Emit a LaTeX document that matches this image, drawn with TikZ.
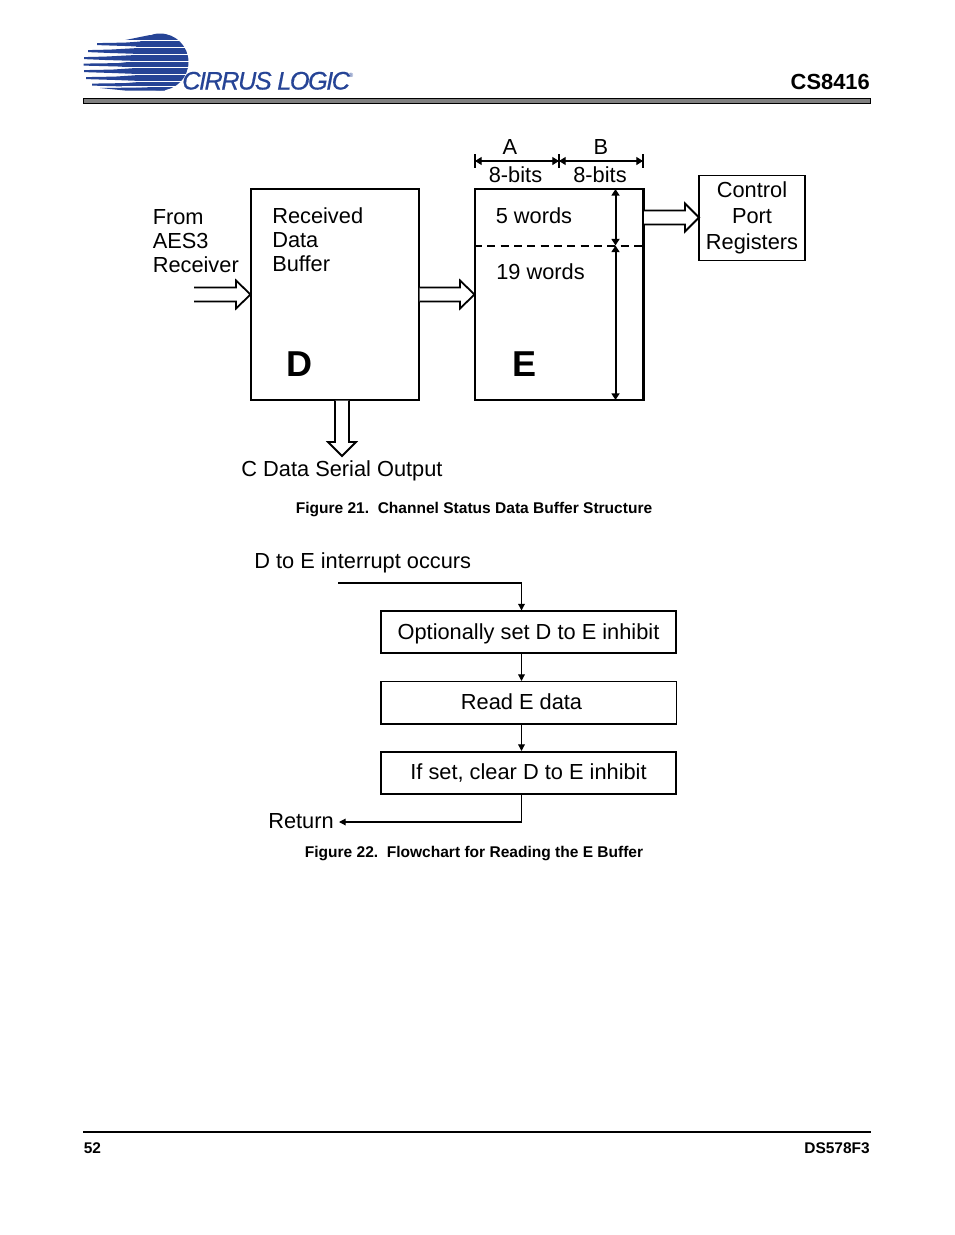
\documentclass[tikz,border=0pt]{standalone}
\usepackage{fontspec}
\setmainfont{Liberation Sans}
\usetikzlibrary{arrows.meta}
\definecolor{logoblue}{RGB}{38,68,150}
\tikzset{
  x=0.75pt,y=-0.75pt,
  box/.style={draw,line width=1.7pt,inner sep=0pt},
  thinbox/.style={draw,line width=1.2pt,inner sep=0pt},
  txt/.style={inner sep=0pt,font=\fontsize{16.35}{18}\selectfont},
  lefttxt/.style={txt,align=left,anchor=north west},
  captxt/.style={inner sep=0pt,font=\bfseries\fontsize{11.65}{13}\selectfont},
  foot/.style={inner sep=0pt,font=\bfseries\fontsize{11.6}{13}\selectfont},
  bigtxt/.style={inner sep=0pt,font=\bfseries\fontsize{27}{30}\selectfont},
  fat/.style={line width=1.35pt,line join=miter,fill=white},
  tipline/.style={-{Triangle[length=5pt,width=5pt]},line width=0.9pt},
  dimline/.style={{Triangle[length=5pt,width=6pt]}-{Triangle[length=5pt,width=6pt]},line width=0.9pt},
  dimlinev/.style={{Triangle[length=5pt,width=6pt]}-{Triangle[length=5pt,width=6pt]},line width=1.5pt},
}
\newcommand{\logoband}[4]{\fill[logoblue] (#1,#4+1.1) -- (#1,#4-0.9) -- (#2,#4-1.4) -- (#3,#4-2.8) -- (165,#4-2.8) -- (165,#4+2.8) -- (#3,#4+2.8) -- (#2,#4+2) -- cycle;}
\begin{document}
\begin{tikzpicture}
\useasboundingbox (0,0) rectangle (954,1235);
\fill[white] (0,0) rectangle (954,1235);
% logo
\fill[logoblue] (160,62) circle[radius=28.5];
\fill[logoblue] (123,40.5) -- (150,35) -- (160,40.5) -- cycle;
\logoband{97}{125}{145}{44}
\logoband{88}{110}{135}{51}
\logoband{84}{105}{132}{58}
\logoband{83.5}{118}{131}{64.5}
\logoband{84}{112}{133}{71}
\logoband{86}{115}{136}{78}
\logoband{92}{125}{143}{84.5}
\fill[logoblue] (100,88) -- (142,87.5) -- (165,87.5) -- (165,90.5) -- (125,90.5) -- cycle;
\foreach \y in {40.6,47.5,54.5,61.2,67.8,74.5,81.3,86.9}{\fill[white] (122,\y-0.55) rectangle (192,\y+0.55);}
\node[inner sep=0pt,anchor=base west,text=logoblue] (logotext) at (182,89.5) {\fontsize{19}{20}\selectfont\itshape\addfontfeature{LetterSpace=-6,FakeBold=0.4}CIRRUS LOGIC};
\node[inner sep=0pt,text=logoblue] (logoreg) at (351,75) {\fontsize{4.5}{5}\selectfont ®};
% header
\node[inner sep=0pt,anchor=base east,font=\bfseries\fontsize{16.4}{18}\selectfont] (title) at (870,89) {CS8416};
\fill[gray] (83.5,98.5) rectangle (870.5,103.5);
\draw[line width=0.9pt] (83.5,98.5) rectangle (870.5,103.5);
% figure 21
\node[box,minimum width=126.5pt,minimum height=158pt] (D) at (335,294.5) {};
\node[box,minimum width=126.5pt,minimum height=158pt] (E) at (559.25,294.5) {};
\node[thinbox,minimum width=79.5pt,minimum height=64pt] (C) at (751.75,218) {};
\node[lefttxt,anchor=base west] (from) at (152.5,224) {From};
\node[lefttxt,anchor=base west] (aes) at (152.5,248) {AES3};
\node[lefttxt,anchor=base west] (rcv) at (152.5,272) {Receiver};
\node[lefttxt,anchor=base west] (rec) at (272,223) {Received};
\node[lefttxt,anchor=base west] (dat) at (272,247) {Data};
\node[lefttxt,anchor=base west] (buf) at (272,271) {Buffer};
\node[bigtxt,anchor=base] (dl) at (299.5,376) {D};
\node[bigtxt,anchor=base] (el) at (524,376) {E};
\node[txt,anchor=base west] (w5) at (495.5,223) {5 words};
\node[txt,anchor=base west] (w19) at (496,279) {19 words};
\node[txt,anchor=base] (la) at (510,154) {A};
\node[txt,anchor=base] (lb) at (601,154) {B};
\node[txt,anchor=base] (ba) at (515.5,182) {8-bits};
\node[txt,anchor=base] (bb) at (600,182) {8-bits};
\node[txt,anchor=base] (c1) at (752,197.5) {Control};
\node[txt,anchor=base] (c2) at (752,223.5) {Port};
\node[txt,anchor=base] (c3) at (752,249.5) {Registers};
\node[txt,anchor=base] (cdata) at (342,476) {C Data Serial Output};
\node[captxt,anchor=base] (f21) at (474,513.5) {Figure 21.\ \ Channel Status Data Buffer Structure};
% dimension marks
\coordinate (a0) at (475,161); \coordinate (a1) at (559,161); \coordinate (a2) at (643,161);
\draw[line width=0.9pt] (475,154) -- (475,168) (559,154) -- (559,168) (643,154) -- (643,168);
\draw[dimline] (a0) -- (a1);
\draw[dimline] (a1) -- (a2);
% dashed
\coordinate (d0) at (474,245.5); \coordinate (d1) at (644,245.5);
\draw[line width=1.5pt,dash pattern=on 6pt off 4pt] (d0) -- (d1);
\coordinate (v0) at (615.5,189); \coordinate (v1) at (615.5,245.5); \coordinate (v2) at (615.5,400);
\draw[dimlinev] (v0) -- (v1);
\draw[dimlinev] (v1) -- (v2);
% fat arrows
\coordinate (t1) at (250.5,294.5);
\draw[fat] (194,287.5) -- (236,287.5) -- (236,280.5) -- (t1) -- (236,308.5) -- (236,301.5) -- (194,301.5);
\coordinate (t2) at (474.5,294.5);
\draw[fat] (419.5,287.5) -- (460,287.5) -- (460,280.5) -- (t2) -- (460,308.5) -- (460,301.5) -- (419.5,301.5);
\coordinate (t3) at (699,217.5);
\draw[fat] (644,210.5) -- (685,210.5) -- (685,203.5) -- (t3) -- (685,231.5) -- (685,224.5) -- (644,224.5);
\coordinate (t4) at (342,456);
\draw[fat] (335,400.5) -- (335,442) -- (328,442) -- (t4) -- (356,442) -- (349,442) -- (349,400.5);
% figure 22
\node[txt,anchor=base west] (occ) at (254,568) {D to E interrupt occurs};
\node[box,line width=1.3pt,minimum width=221.5pt,minimum height=32pt] (s1) at (528.5,632) {};
\node[thinbox,line width=1pt,minimum width=221.5pt,minimum height=32pt] (s2) at (528.5,702.5) {};
\node[box,line width=1.3pt,minimum width=221.5pt,minimum height=32pt] (s3) at (528.5,773) {};
\node[txt,anchor=base] (s1t) at (528.5,639) {Optionally set D to E inhibit};
\node[txt,anchor=base] (s2t) at (521.5,709) {Read E data};
\node[txt,anchor=base] (s3t) at (528.5,779) {If set, clear D to E inhibit};
\node[txt,anchor=base west] (ret) at (268,828) {Return};
\coordinate (st) at (338,583);
\coordinate (j0) at (521.5,583);
\draw[line width=1.1pt] (st) -- (j0);
\draw[tipline] (j0) -- (521.5,610.5);
\draw[tipline] (521.5,653.5) -- (521.5,681);
\draw[tipline] (521.5,723.5) -- (521.5,751);
\coordinate (r0) at (521.5,794);
\coordinate (r1) at (521.5,822);
\coordinate (r2) at (339,822);
\draw[line width=0.9pt] (r0) -- (r1);
\draw[tipline] (r1) -- (r2);
\node[captxt,anchor=base] (f22) at (474,857.5) {Figure 22.\ \ Flowchart for Reading the E Buffer};
% footer
\coordinate (fl) at (83,1132); \coordinate (fr) at (871,1132);
\draw[line width=1pt] (fl) -- (fr);
\node[foot,anchor=base west] (pg) at (83.5,1153) {52};
\node[foot,anchor=base east] (ds) at (870,1153) {DS578F3};
\end{tikzpicture}
\end{document}
